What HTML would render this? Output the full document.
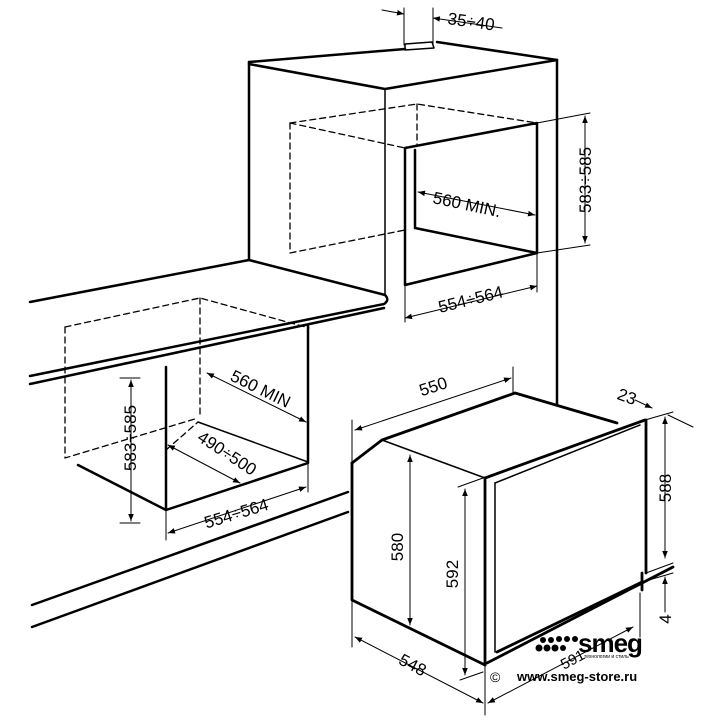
<!DOCTYPE html>
<html><head><meta charset="utf-8"><style>
html,body{margin:0;padding:0;background:#fff}
svg{display:block}
text{font-family:"Liberation Sans",Arial,sans-serif;fill:#000}
</style></head><body>
<svg width="720" height="720" viewBox="0 0 720 720" xmlns="http://www.w3.org/2000/svg">
<defs>
<marker id="a" viewBox="0 0 10 10" refX="10" refY="5" markerWidth="7" markerHeight="7" orient="auto-start-reverse"><path d="M0,1 L10,5 L0,9 z" fill="#000"/></marker>
</defs>
<g fill="none" stroke="#000" stroke-linecap="round" stroke-linejoin="round">
<g stroke-width="2.5">
<path d="M249,62 L405,49"/>
<path d="M405,44 L432,42 L434,48 L405,50 z" stroke-width="1.5"/>
<path d="M437,42 L557,60"/>
<path d="M249,62 L249,260"/>
<path d="M249,64 L385,89 L557,60"/>
<path d="M557,60 L557,405"/>
<path d="M30,302 L249,260 L385,295"/>
<path d="M385,295 Q390,300 384,304 L30,376"/>
<path d="M30,384 L384,308"/>
<path d="M405,148 L537,123 L537,253 L405,285 z"/>
<path d="M415,150 L415,228 L537,253"/>
</g>
<path d="M385,89 L385,295" stroke-width="1.5"/>
<g stroke-width="1.3" stroke-dasharray="6,4">
<path d="M290,123 L417,104 L537,123"/>
<path d="M290,123 L405,148"/>
<path d="M290,123 L290,253 L405,230"/>
<path d="M417,104 L417,146"/>
</g>
<g stroke-width="1">
<path d="M404,8 L404,45 M433,8 L433,45"/>
<path d="M382,10 L404,14" marker-end="url(#a)"/>
<path d="M502,28 L433,18" marker-end="url(#a)"/>
<path d="M418,192 L535,215" marker-start="url(#a)" marker-end="url(#a)"/>
<path d="M537,123 L590,113 M537,253 L590,245"/>
<path d="M585,116 L585,243" marker-start="url(#a)" marker-end="url(#a)"/>
<path d="M405,285 L405,322 M537,253 L537,292"/>
<path d="M405,318 L537,286" marker-start="url(#a)" marker-end="url(#a)"/>
</g>
<g stroke-width="1.3" stroke-dasharray="6,4">
<path d="M65,327 L200,298 L309,328"/>
<path d="M65,327 L65,458 L198,418"/>
<path d="M200,298 L200,418"/>
<path d="M166,450 L198,422"/>
</g>
<g stroke-width="2.5">
<path d="M166,367 L166,510 L308,463 L308,325"/>
<path d="M78,465 L166,510"/>
<path d="M198,422 L308,462" stroke-width="1.5"/>
<path d="M32,605 L348,492 M32,627 L348,512"/>
</g>
<g stroke-width="1">
<path d="M120,378 L140,378 M120,523 L140,523"/>
<path d="M131,380 L131,521" marker-start="url(#a)" marker-end="url(#a)"/>
<path d="M207,373 L306,422" marker-start="url(#a)" marker-end="url(#a)"/>
<path d="M168,445 L240,483" marker-start="url(#a)" marker-end="url(#a)"/>
<path d="M166,510 L166,540 M308,463 L308,492"/>
<path d="M168,533 L306,487" marker-start="url(#a)" marker-end="url(#a)"/>
</g>
<!-- oven -->
<g stroke-width="2.8">
<path d="M352,463 L382,440 L515,393 L617,423"/>
<path d="M352,463 L352,600 L485,665"/>
<path d="M485,478 L485,665"/>
<path d="M485,478 L645,420 L646,420 L646,573"/>
<path d="M497,652 L642,582"/>
<path d="M487,663 L673,567"/>
<path d="M642,573 L642,590"/>
</g>
<g stroke-width="1.5">
<path d="M382,440 L485,478"/>
<path d="M495,483 L495,652"/>
<path d="M495,483 L640,425"/>
</g>
<g stroke-width="1">
<path d="M410,455 L410,625" marker-start="url(#a)" marker-end="url(#a)"/>
<path d="M458,487 L483,478 M460,680 L483,672"/>
<path d="M465,489 L465,675" marker-start="url(#a)" marker-end="url(#a)"/>
<path d="M352,420 L352,463 M513,367 L513,393"/>
<path d="M355,430 L511,378" marker-start="url(#a)" marker-end="url(#a)"/>
<path d="M352,600 L352,647 M485,665 L485,715"/>
<path d="M355,637 L483,703" marker-start="url(#a)" marker-end="url(#a)"/>
<path d="M488,703 L633,627" marker-start="url(#a)" marker-end="url(#a)"/>
<path d="M640,593 L640,637"/>
<path d="M645,420 L673,412 M646,573 L673,563 M642,582 L673,573"/>
<path d="M668,415 L693,427"/>
<path d="M665,417 L665,558" marker-start="url(#a)" marker-end="url(#a)"/>
<path d="M665,612 L665,577" marker-end="url(#a)"/>
<path d="M635,400 L652,408" marker-end="url(#a)"/>
</g>
</g>
<g font-size="17">
<text x="447" y="24" transform="rotate(8 447 24)">35÷40</text>
<text x="432" y="203" transform="rotate(12 432 203)">560 MIN.</text>
<text transform="translate(591,180) rotate(-90)" text-anchor="middle">583÷585</text>
<text transform="translate(472,305) rotate(-14)" text-anchor="middle">554÷564</text>
<text transform="translate(258,394) rotate(26)" text-anchor="middle">560 MIN</text>
<text transform="translate(136,438) rotate(-90)" text-anchor="middle">583÷585</text>
<text transform="translate(224,458) rotate(33)" text-anchor="middle">490÷500</text>
<text transform="translate(238,519) rotate(-17)" text-anchor="middle">554÷564</text>
<text transform="translate(435,392) rotate(-18)" text-anchor="middle">550</text>
<text transform="translate(403,547) rotate(-90)" text-anchor="middle">580</text>
<text transform="translate(458,574) rotate(-90)" text-anchor="middle">592</text>
<text transform="translate(410,670) rotate(28)" text-anchor="middle">548</text>
<text transform="translate(625,402) rotate(20)" text-anchor="middle">23</text>
<text transform="translate(671,488) rotate(-90)" text-anchor="middle">588</text>
<text transform="translate(671,619) rotate(-90)" text-anchor="middle">4</text>
<text transform="translate(575,664) rotate(-28)" text-anchor="middle" font-size="15">591</text>
</g>
<g fill="#000">
<circle cx="543" cy="640" r="3"/><circle cx="551" cy="640" r="3"/><circle cx="559" cy="639" r="3"/><circle cx="567" cy="639" r="3"/><circle cx="575" cy="639" r="3"/>
<circle cx="539" cy="648" r="3.5"/><circle cx="547" cy="648" r="3.5"/><circle cx="555" cy="648" r="3.5"/><circle cx="563" cy="648" r="3"/>
</g>
<text x="578" y="652" font-size="26" font-weight="bold" letter-spacing="-1">smeg</text>
<text x="584" y="658" font-size="5">технологии и стиль</text>
<text x="490" y="682" font-size="14">©</text>
<text x="517" y="681" font-size="13" font-weight="bold">www.smeg-store.ru</text>
</svg>
</body></html>
